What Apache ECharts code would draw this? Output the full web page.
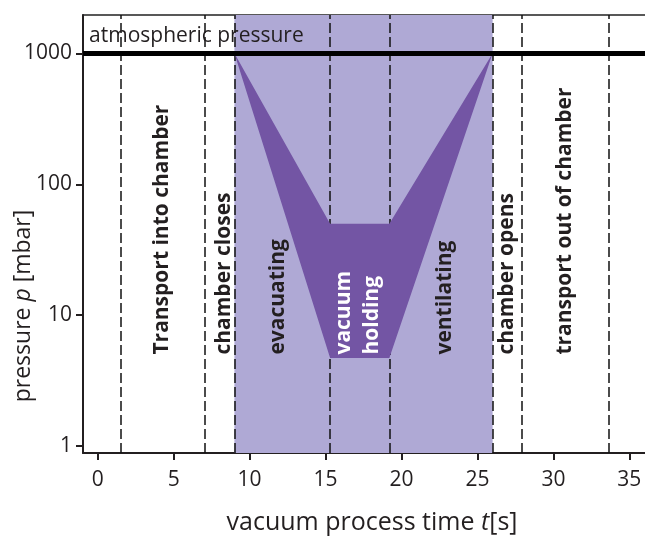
<!DOCTYPE html>
<html><head><meta charset="utf-8">
<script src="https://cdn.jsdelivr.net/npm/echarts@6/dist/echarts.min.js"></script>
<style>html,body{margin:0;padding:0;background:#fff}#c{width:645px;height:536px}</style>
</head><body><div id="c"></div>
<script>
// ---- data ----
const xTicks = [0, 5, 10, 15, 20, 25, 30, 35];
const yTicks = [1, 10, 100, 1000];
const phaseBoundaries = [1.5, 7.05, 9, 15.3, 19.2, 26, 27.9, 33.65];
const vacuumPhase = [9, 26];
const atmosphericPressure = 1000;
const funnelTime = [9, 15.3, 19.2, 26, 19.2, 15.3];
const funnelPressure = [1000, 4.7, 4.7, 1000, 50, 50];
const phaseLabels = ['Transport into chamber', 'chamber closes', 'evacuating', 'vacuum', 'holding', 'ventilating', 'chamber opens', 'transport out of chamber'];
const phaseLabelTime = [4.23, 8.32, 11.87, 16.2, 18.06, 22.87, 26.95, 30.76];
const phaseLabelPressure = 5;
const atmLabel = 'atmospheric pressure';
const atmLabelTime = -0.57;
const atmLabelPressure = 1356;

// ---- chart ----
const FONT = 'Open Sans';
const INK = '#231f20';
const lg = v => Math.log10(v);
const chart = echarts.init(document.getElementById('c'), null, {renderer: 'canvas'});
const xMin = -0.968, xMax = 36.03;
const yMin = -0.053, yMax = 3.293;
const tickRich = {t: {fontFamily: FONT, fontSize: 21, color: INK}};

const labelData = phaseLabels.map((n, i) => ({
  value: [phaseLabelTime[i], lg(phaseLabelPressure)],
  name: n,
  label: {color: (n === 'vacuum' || n === 'holding') ? '#ffffff' : INK}
}));

chart.setOption({
  animation: false,
  grid: {left: 83, right: 0, top: 15, bottom: 83, containLabel: false, outerBoundsMode: 'none'},
  xAxis: [{
    type: 'value', min: xMin, max: xMax,
    axisLine: {show: true, onZero: false, lineStyle: {color: INK, width: 2}},
    axisTick: {show: true, length: 7, lineStyle: {color: INK, width: 2}, customValues: xTicks},
    axisLabel: {show: true, margin: 17, fontFamily: FONT, fontSize: 21, color: INK, customValues: xTicks,
      formatter: v => '{t|' + Math.round(v) + '}', rich: tickRich},
    splitLine: {show: false},
    name: 'vacuum process time {i|t}[s]',
    nameLocation: 'middle', nameGap: 57,
    nameTextStyle: {fontFamily: FONT, fontSize: 25, color: INK, padding: [0, 0, 0, 16],
      rich: {i: {fontFamily: FONT, fontSize: 25, color: INK, fontStyle: 'italic'}}}
  }, {
    type: 'value', position: 'top', min: xMin, max: xMax,
    axisLine: {show: true, onZero: false, lineStyle: {color: '#222', width: 1.5}},
    axisTick: {show: false}, axisLabel: {show: false}, splitLine: {show: false}
  }],
  yAxis: {
    type: 'value', min: yMin, max: yMax,
    axisLine: {show: true, onZero: false, lineStyle: {color: INK, width: 2}},
    axisTick: {show: true, length: 7, lineStyle: {color: INK, width: 2}, customValues: yTicks.map(lg)},
    axisLabel: {show: true, margin: 11, fontFamily: FONT, fontSize: 21, color: INK,
      customValues: yTicks.map(lg), rich: tickRich,
      formatter: v => '{t|' + String(Math.round(Math.pow(10, v))) + '}'},
    splitLine: {show: false}
  },
  graphic: [{
    type: 'text', x: 23, y: 306, rotation: Math.PI / 2,
    style: {
      text: 'pressure {i|p} [mbar]', align: 'center', verticalAlign: 'middle',
      fontFamily: FONT, fontSize: 23, fill: INK,
      rich: {i: {fontFamily: FONT, fontSize: 23, fill: INK, fontStyle: 'italic'}}
    }
  }],
  series: [
    { // vacuum phase band
      type: 'line', data: [], z: 1,
      markArea: {silent: true, z: 1, itemStyle: {color: '#afa9d5'},
        data: [[{xAxis: vacuumPhase[0]}, {xAxis: vacuumPhase[1]}]]}
    },
    { // phase boundaries
      type: 'line', data: [], z: 2,
      markLine: {silent: true, z: 2, symbol: ['none', 'none'], label: {show: false},
        lineStyle: {color: '#111', width: 1.5, type: [10, 4]},
        data: phaseBoundaries.map(x => ({xAxis: x}))}
    },
    { // pressure funnel
      type: 'custom', z: 3, silent: true, data: [[0, 0]],
      renderItem: (params, api) => {
        const pts = funnelTime.map((t, i) => api.coord([t, lg(funnelPressure[i])]));
        return {type: 'polygon', shape: {points: pts}, style: {fill: '#7355a4'}};
      }
    },
    { // atmospheric pressure line
      type: 'line', data: [], z: 4,
      markLine: {silent: true, z: 4, symbol: ['none', 'none'], label: {show: false},
        lineStyle: {color: '#000', width: 5, type: 'solid'},
        data: [{yAxis: lg(atmosphericPressure)}]}
    },
    { // phase labels
      type: 'scatter', z: 6, silent: true, symbolSize: 0.001,
      itemStyle: {color: 'rgba(0,0,0,0)', opacity: 1},
      label: {show: true, position: 'inside', rotate: 90, align: 'left', verticalAlign: 'middle',
        formatter: '{b}', fontFamily: FONT, fontWeight: 'bold', fontSize: 21, color: INK},
      data: labelData
    },
    { // atmospheric label
      type: 'scatter', z: 6, silent: true, symbolSize: 0.001,
      itemStyle: {color: 'rgba(0,0,0,0)', opacity: 1},
      label: {show: true, position: 'inside', align: 'left', verticalAlign: 'middle',
        formatter: '{b}', fontFamily: FONT, fontSize: 21, color: INK},
      data: [{value: [atmLabelTime, lg(atmLabelPressure)], name: atmLabel}]
    }
  ]
});
</script>
</body></html>
